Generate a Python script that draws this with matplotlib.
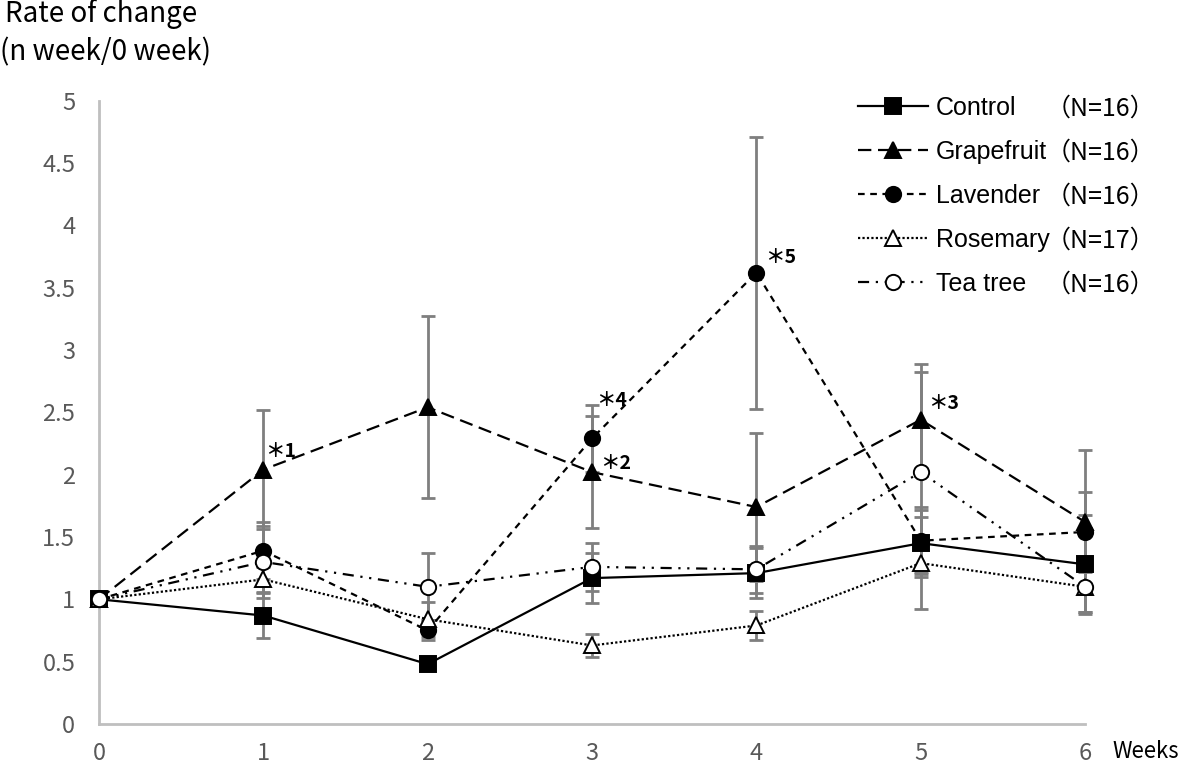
import numpy as np
import matplotlib
matplotlib.use("Agg")
import matplotlib.pyplot as plt

plt.rcParams['font.family'] = ['Noto Sans CJK JP', 'DejaVu Sans']

weeks = [0, 1, 2, 3, 4, 5, 6]

control = [1.0, 0.87, 0.48, 1.17, 1.21, 1.45, 1.28]
control_err = [0.0, 0.18, 0.05, 0.20, 0.20, 0.27, 0.40]

grapefruit = [1.0, 2.04, 2.54, 2.02, 1.74, 2.44, 1.62]
grapefruit_err = [0.0, 0.48, 0.73, 0.45, 0.59, 0.45, 0.58]

lavender = [1.0, 1.39, 0.75, 2.29, 3.62, 1.47, 1.54]
lavender_err = [0.0, 0.23, 0.08, 0.27, 1.09, 0.27, 0.32]

rosemary = [1.0, 1.16, 0.84, 0.63, 0.79, 1.29, 1.10]
rosemary_err = [0.0, 0.10, 0.14, 0.09, 0.12, 0.37, 0.20]

teatree = [1.0, 1.30, 1.10, 1.26, 1.24, 2.02, 1.10]
teatree_err = [0.0, 0.29, 0.27, 0.19, 0.19, 0.80, 0.20]

names = ['Control', 'Grapefruit', 'Lavender', 'Rosemary', 'Tea tree']
counts = ['（N=16）', '（N=16）', '（N=16）', '（N=17）', '（N=16）']

# significance marks: (label, week, value)
marks = [('＊1', 1, 2.04), ('＊2', 3, 2.02), ('＊3', 5, 2.44),
         ('＊4', 3, 2.29), ('＊5', 4, 3.62)]
mark_offsets = [(1, 13), (6, 6), (5, 12), (3, 27), (6, 11)]

series = [control, grapefruit, lavender, rosemary, teatree]
errs = [control_err, grapefruit_err, lavender_err, rosemary_err, teatree_err]
styles = [
    dict(linestyle='-', marker='s', mfc='black'),
    dict(linestyle=(0, (6, 3)), marker='^', mfc='black'),
    dict(linestyle=(0, (3, 2.5)), marker='o', mfc='black'),
    dict(linestyle=(0, (1, 1)), marker='^', mfc='white'),
    dict(linestyle=(0, (5, 3, 1, 3, 1, 3)), marker='o', mfc='white'),
]

fig = plt.figure(figsize=(11.81, 7.65), dpi=100)
ax = fig.add_axes([0.0838, 0.0536, 0.835, 0.8150])

for y, e in zip(series, errs):
    eb = ax.errorbar(weeks, y, yerr=e, fmt='none', ecolor='#7f7f7f',
                     elinewidth=2, capsize=5, capthick=2, zorder=2)
    for art in eb.lines[1] + eb.lines[2]:
        art.set_clip_on(False)

handles = []
for y, st in zip(series, styles):
    ln, = ax.plot(weeks, y, color='black', lw=1.6, ms=11, mec='black',
                  mew=1.4, zorder=3, clip_on=False, **st)
    handles.append(ln)

for (lab, wk, val), off in zip(marks, mark_offsets):
    ax.annotate(lab, (wk, val), xytext=off, textcoords='offset points',
                ha='left', va='center', fontsize=14, fontweight='bold',
                color='black')

ax.set_xlim(0, 6)
ax.set_ylim(0, 5)
ax.set_xticks(weeks)
ax.set_yticks(np.arange(0, 5.01, 0.5))
ax.set_yticklabels(['0', '0.5', '1', '1.5', '2', '2.5', '3', '3.5', '4', '4.5', '5'])
ax.tick_params(axis='both', length=0, labelsize=17, colors='#595959')
ax.tick_params(axis='y', pad=17)
ax.tick_params(axis='x', pad=13)
for s in ['top', 'right']:
    ax.spines[s].set_visible(False)
for s in ['left', 'bottom']:
    ax.spines[s].set_color('#bfbfbf')
    ax.spines[s].set_linewidth(2)

fig.text(0.004, 0.982, 'Rate of change', fontsize=20, va='center', ha='left')
fig.text(0.0, 0.932, '(n week/0 week)', fontsize=20, va='center', ha='left')
fig.text(0.942, 0.017, 'Weeks', fontsize=16, va='center', ha='left')

leg = ax.legend(handles, names, loc='upper left', bbox_to_anchor=(0.747, 1.043),
                frameon=False, handlelength=2.8, handletextpad=0.3,
                labelspacing=0.80, numpoints=1,
                prop={'family': ['Liberation Sans', 'Noto Sans CJK JP'], 'size': 18})

fig.canvas.draw()
inv = fig.transFigure.inverted()
for t, c in zip(leg.get_texts(), counts):
    bb = t.get_window_extent()
    yc = inv.transform(((bb.x0 + bb.x1) / 2, (bb.y0 + bb.y1) / 2))[1]
    fig.text(0.885, yc, c, fontsize=18, va='center', ha='left',
             family=['Noto Sans CJK JP', 'Liberation Sans'])

fig.savefig('out.png', dpi=100)
